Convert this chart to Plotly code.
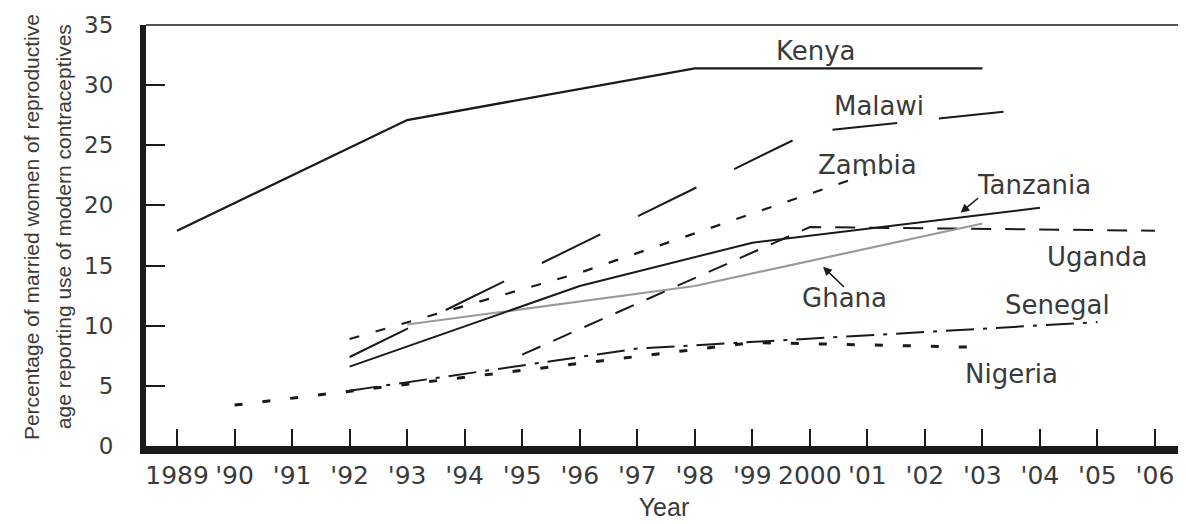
import plotly.graph_objects as go

# ---- data ----
tick_years = list(range(1989, 2007))
tick_labels = ["1989", "'90", "'91", "'92", "'93", "'94", "'95", "'96", "'97", "'98",
               "'99", "2000", "'01", "'02", "'03", "'04", "'05", "'06"]
y_ticks = [0, 5, 10, 15, 20, 25, 30, 35]

kenya_years = [1989, 1993, 1998, 2003]
kenya = [17.9, 27.1, 31.4, 31.4]

malawi_years = [1992, 2000, 2004]
malawi = [7.4, 26.1, 28.1]

zambia_years = [1992, 1996, 2001]
zambia = [8.9, 14.4, 22.6]

tanzania_years = [1992, 1996, 1999, 2004]
tanzania = [6.6, 13.3, 16.9, 19.8]

ghana_years = [1993, 1998, 2003]
ghana = [10.1, 13.3, 18.5]

uganda_years = [1995, 2000, 2006]
uganda = [7.6, 18.2, 17.9]

senegal_years = [1992, 1997, 2005]
senegal = [4.6, 8.1, 10.3]

nigeria_years = [1990, 1999, 2003]
nigeria = [3.4, 8.6, 8.2]

BLACK = "#1a1a1a"
GREY = "#9a9a9a"
TEXT = "#3a3a3a"

fig = go.Figure()

def add(xs, ys, color, width, dash, name):
    fig.add_trace(go.Scatter(x=xs, y=ys, mode="lines", name=name,
                             line=dict(color=color, width=width, dash=dash),
                             hoverinfo="x+y+name"))

add(kenya_years, kenya, BLACK, 2.3, "solid", "Kenya")
add(zambia_years, zambia, BLACK, 2.2, "10px,17px", "Zambia")
add(uganda_years, uganda, BLACK, 2.0, "20px,14px", "Uganda")
add(ghana_years, ghana, GREY, 2.2, "solid", "Ghana")
add(malawi_years, malawi, BLACK, 2.0, "65px,42px", "Malawi")
add(tanzania_years, tanzania, BLACK, 2.0, "solid", "Tanzania")
add(senegal_years, senegal, BLACK, 2.0, "28px,9px,4px,9px", "Senegal")
add(nigeria_years, nigeria, BLACK, 3.0, "8px,20px", "Nigeria")

label_font = dict(family="DejaVu Sans", size=26, color=TEXT)
labels = [
    ("Kenya", 2000.1, 32.8),
    ("Malawi", 2001.2, 28.3),
    ("Zambia", 2001.0, 23.4),
    ("Tanzania", 2003.9, 21.7),
    ("Uganda", 2005.0, 15.7),
    ("Ghana", 2000.6, 12.3),
    ("Senegal", 2004.3, 11.7),
    ("Nigeria", 2003.5, 6.0),
]
for txt, lx, ly in labels:
    fig.add_annotation(x=lx, y=ly, text=txt, showarrow=False, font=label_font,
                       xanchor="center", yanchor="middle")

# arrows
fig.add_annotation(x=2002.62, y=19.4, ax=2002.95, ay=20.7, axref="x", ayref="y",
                   text="", showarrow=True, arrowhead=2, arrowsize=1.1,
                   arrowwidth=1.6, arrowcolor=BLACK)
fig.add_annotation(x=2000.23, y=14.9, ax=2000.62, ay=13.1, axref="x", ayref="y",
                   text="", showarrow=True, arrowhead=2, arrowsize=1.1,
                   arrowwidth=1.6, arrowcolor=BLACK)

# y-axis title, two rotated lines
title_font = dict(family="Liberation Sans", size=21, color=TEXT)
fig.add_annotation(xref="paper", yref="paper", x=-0.111, y=0.52,
                   text="Percentage of married women of reproductive",
                   textangle=-90, showarrow=False, font=title_font,
                   xanchor="center", yanchor="middle")
fig.add_annotation(xref="paper", yref="paper", x=-0.080, y=0.52,
                   text="age reporting use of modern contraceptives",
                   textangle=-90, showarrow=False, font=title_font,
                   xanchor="center", yanchor="middle")

# thin top and right frame lines
fig.add_shape(type="line", xref="paper", yref="paper", x0=0, x1=1, y0=1, y1=1,
              line=dict(color=BLACK, width=1.5))
fig.add_shape(type="line", xref="paper", yref="paper", x0=1, x1=1, y0=0, y1=1,
              line=dict(color=BLACK, width=3))

fig.update_layout(
    width=1178, height=516,
    margin=dict(l=138, r=4, t=15, b=71),
    paper_bgcolor="white", plot_bgcolor="white",
    showlegend=False,
    xaxis=dict(
        range=[1988.46, 2006.47],
        tickmode="array", tickvals=tick_years, ticktext=tick_labels,
        ticks="inside", ticklen=17, tickwidth=2, tickcolor=BLACK,
        showline=True, linewidth=8, linecolor=BLACK,
        showgrid=False, zeroline=False,
        ticklabelstandoff=0,
        tickfont=dict(family="DejaVu Sans", size=25, color=TEXT),
        title=dict(text="Year", font=dict(family="Liberation Sans", size=25, color=TEXT),
                   standoff=12),
    ),
    yaxis=dict(
        range=[0, 35],
        tickmode="array", tickvals=y_ticks,
        ticks="inside", ticklen=19, tickwidth=2, tickcolor=BLACK,
        showline=True, linewidth=6, linecolor=BLACK,
        showgrid=False, zeroline=False,
        ticklabelstandoff=22,
        tickfont=dict(family="DejaVu Sans", size=23, color=TEXT),
    ),
)

fig.write_html("out.html")
